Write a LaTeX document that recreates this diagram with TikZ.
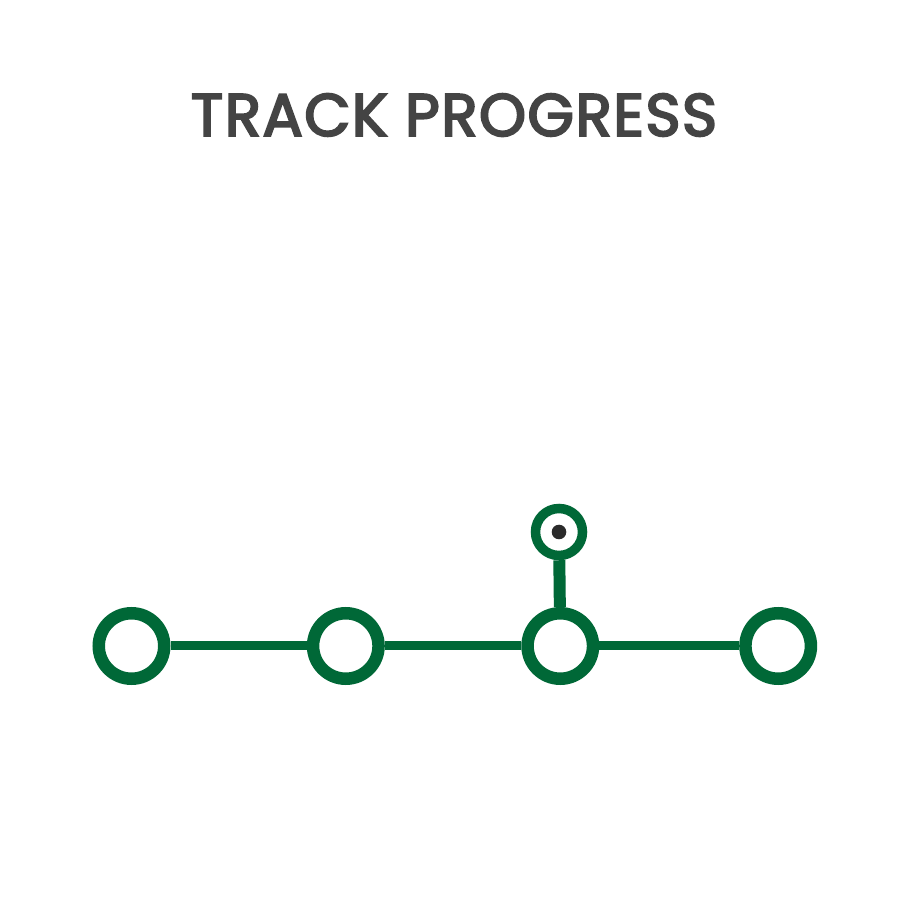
\documentclass[tikz,border=0pt]{standalone}
\usepackage{fontspec}
\setsansfont{Poppins}
\newfontfamily\titlefont[FakeBold=3.5, LetterSpace=2.5]{Poppins}
\definecolor{trackgreen}{HTML}{006837}
\definecolor{titlegray}{HTML}{444444}
\definecolor{dotgray}{HTML}{2B2B2B}

\begin{document}
\begin{tikzpicture}[
    stop/.style={circle, draw=trackgreen, fill=white, line width=0.125cm, minimum size=0.655cm, inner sep=0pt},
    pin/.style={circle, draw=trackgreen, fill=white, line width=0.095cm, minimum size=0.47cm, inner sep=0pt},
    track/.style={trackgreen, line width=0.09cm},
    every node/.style={font=\sffamily}]
  \useasboundingbox (0,0) rectangle (9,9);
  % title
  \node[text=titlegray, font=\titlefont\fontsize{17}{20}\selectfont] (title) at (4.54,7.85) {TRACK PROGRESS};
  % stops along the track
  \node[stop] (s1) at (1.315,2.54) {};
  \node[stop] (s2) at (3.458,2.54) {};
  \node[stop] (s3) at (5.603,2.54) {};
  \node[stop] (s4) at (7.782,2.54) {};
  % current position marker
  \node[pin] (here) at (5.59,3.68) {};
  \fill[dotgray] (here.center) circle (0.073);
  \draw[track] (s1) -- (s2);
  \draw[track] (s2) -- (s3);
  \draw[track] (s3) -- (s4);
  \draw[track, line width=0.12cm] (here) -- (s3);
\end{tikzpicture}
\end{document}
